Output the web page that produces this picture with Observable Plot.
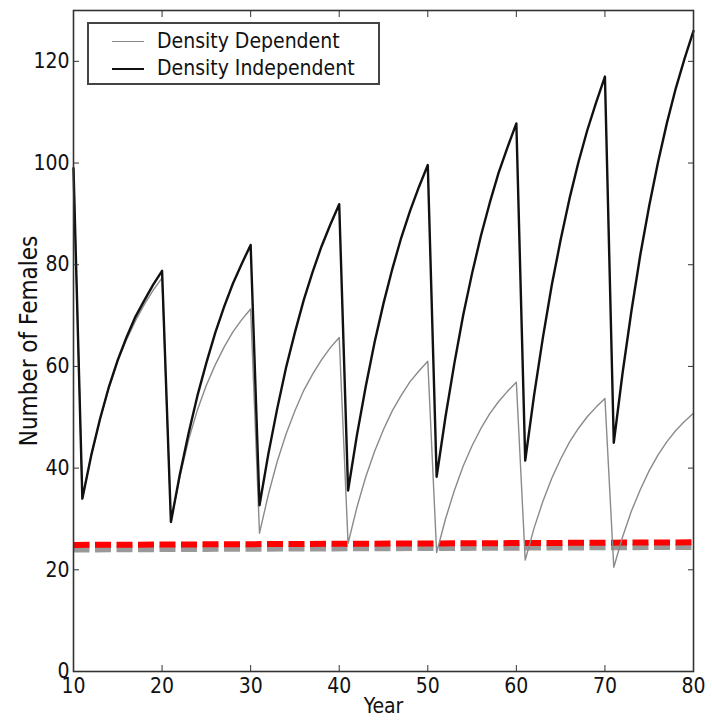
<!DOCTYPE html>
<html>
<head>
<meta charset="utf-8">
<script src="https://cdn.jsdelivr.net/npm/d3@7"></script>
<script src="https://cdn.jsdelivr.net/npm/@observablehq/plot@0.6"></script>
<style>
  html, body { margin: 0; padding: 0; background: #fff; }
  #wrap { position: relative; width: 712px; height: 721px; }
  #legend {
    position: absolute; left: 87px; top: 22px; width: 289px; height: 59px;
    border: 2px solid #444; background: #fff;
    font-family: "DejaVu Sans Condensed", "DejaVu Sans", sans-serif; font-size: 21px; color: #111;
  }
  .row { position: absolute; left: 0; height: 26px; }
  .sw { position: absolute; left: 23px; width: 32px; top: 13px; }
  .lab { position: absolute; left: 68px; top: 0; white-space: nowrap; line-height: 26px; }
</style>
</head>
<body>
<div id="wrap">
  <div id="chart"></div>
  <div id="legend"></div>
</div>
<script>
const years = d3.range(10, 81);

const densityIndependent = [
  99, 34, 42.5, 49.7, 56, 61.3, 65.8, 69.8, 73, 76.1, 78.8,
  29.4, 38.7, 46.9, 54.3, 60.7, 66.6, 71.7, 76.3, 80.2, 83.9,
  32.7, 42.8, 51.7, 59.8, 66.7, 73.1, 78.6, 83.6, 87.9, 91.9,
  35.6, 46.5, 56.1, 64.8, 72.4, 79.2, 85.3, 90.6, 95.3, 99.6,
  38.3, 50.1, 60.6, 70.1, 78.3, 85.7, 92.2, 98.1, 103.1, 107.8,
  41.5, 54.3, 65.7, 76, 84.9, 93, 100.1, 106.4, 111.9, 117,
  45, 58.8, 71, 82, 91.6, 100.2, 107.9, 114.7, 120.6, 126
];

const densityDependent = [
  99, 34, 42.5, 49.6, 55.8, 61, 65.3, 69, 72.2, 75, 77.4,
  29.5, 38.3, 45.6, 51.5, 56.3, 60.3, 63.8, 66.8, 69.2, 71.3,
  27.2, 34.8, 41.3, 46.7, 51.3, 55.3, 58.5, 61.3, 63.7, 65.7,
  25.2, 32.3, 38.3, 43.3, 47.6, 51.3, 54.3, 57, 59.1, 61,
  23.4, 30, 35.6, 40.4, 44.4, 47.8, 50.7, 53.1, 55.1, 56.9,
  21.9, 28.2, 33.5, 38, 41.8, 45.1, 47.8, 50.1, 52, 53.7,
  20.5, 26.5, 31.6, 35.8, 39.5, 42.6, 45.2, 47.4, 49.2, 50.8
];

const eqYears = [10, 80];
const eqRed = [24.9, 25.4];
const eqGray = [24.0, 24.5];

const xTicks = [10, 20, 30, 40, 50, 60, 70, 80];
const yTicks = [0, 20, 40, 60, 80, 100, 120];

const seriesNames = ["Density Dependent", "Density Independent"];
const seriesColors = ["#8a8a8a", "#111111"];

const dd = years.map((y, i) => ({year: y, value: densityDependent[i]}));
const di = years.map((y, i) => ({year: y, value: densityIndependent[i]}));
const eqR = eqYears.map((y, i) => ({year: y, value: eqRed[i]}));
const eqG = eqYears.map((y, i) => ({year: y, value: eqGray[i]}));

const font = '"DejaVu Sans Condensed", "DejaVu Sans", sans-serif';
const blank = () => "";

const chart = Plot.plot({
  width: 712,
  height: 721,
  marginLeft: 73,
  marginRight: 19,
  marginTop: 10,
  marginBottom: 50,
  style: {fontFamily: font, fontSize: "21px", background: "#fff", color: "#111"},
  x: {domain: [10, 80]},
  y: {domain: [0, 130]},
  marks: [
    Plot.lineY(eqG, {x: "year", y: "value", stroke: "#999", strokeWidth: 6, strokeDasharray: "16,5.5", strokeLinecap: "butt"}),
    Plot.lineY(eqR, {x: "year", y: "value", stroke: "#ff0000", strokeWidth: 6, strokeDasharray: "16,5.5", strokeLinecap: "butt"}),
    Plot.lineY(dd, {x: "year", y: "value", stroke: seriesColors[0], strokeWidth: 1.4}),
    Plot.lineY(di, {x: "year", y: "value", stroke: seriesColors[1], strokeWidth: 2.4}),
    Plot.frame({stroke: "#333", strokeWidth: 1.6}),
    Plot.axisX(xTicks, {anchor: "bottom", tickSize: 0, tickPadding: 7, label: null, fontSize: 21}),
    Plot.axisX(xTicks, {anchor: "bottom", tickSize: -6, tickFormat: blank, label: null, stroke: "#333"}),
    Plot.axisX(xTicks, {anchor: "top", tickSize: -6, tickFormat: blank, label: null, stroke: "#333"}),
    Plot.axisY(yTicks, {anchor: "left", tickSize: 0, tickPadding: 4, label: null, fontSize: 21}),
    Plot.axisY(yTicks, {anchor: "left", tickSize: -6, tickFormat: blank, label: null, stroke: "#333"}),
    Plot.axisY(yTicks, {anchor: "right", tickSize: -6, tickFormat: blank, label: null, stroke: "#333"}),
    Plot.text(["Year"], {frameAnchor: "bottom", dy: 41, lineAnchor: "bottom", fontSize: 21}),
    Plot.text(["Number of Females"], {frameAnchor: "left", dx: -44, rotate: -90, textAnchor: "middle", lineAnchor: "middle", fontSize: 24})
  ]
});
document.getElementById("chart").appendChild(chart);

const legend = document.getElementById("legend");
seriesNames.forEach((name, i) => {
  const row = document.createElement("div");
  row.className = "row";
  row.style.top = (4 + i * 27) + "px";
  row.style.width = "100%";
  const sw = document.createElement("div");
  sw.className = "sw";
  sw.style.borderTop = (i === 0 ? 1.6 : 2.4) + "px solid " + seriesColors[i];
  const lab = document.createElement("div");
  lab.className = "lab";
  lab.textContent = name;
  row.appendChild(sw);
  row.appendChild(lab);
  legend.appendChild(row);
});
</script>
</body>
</html>
